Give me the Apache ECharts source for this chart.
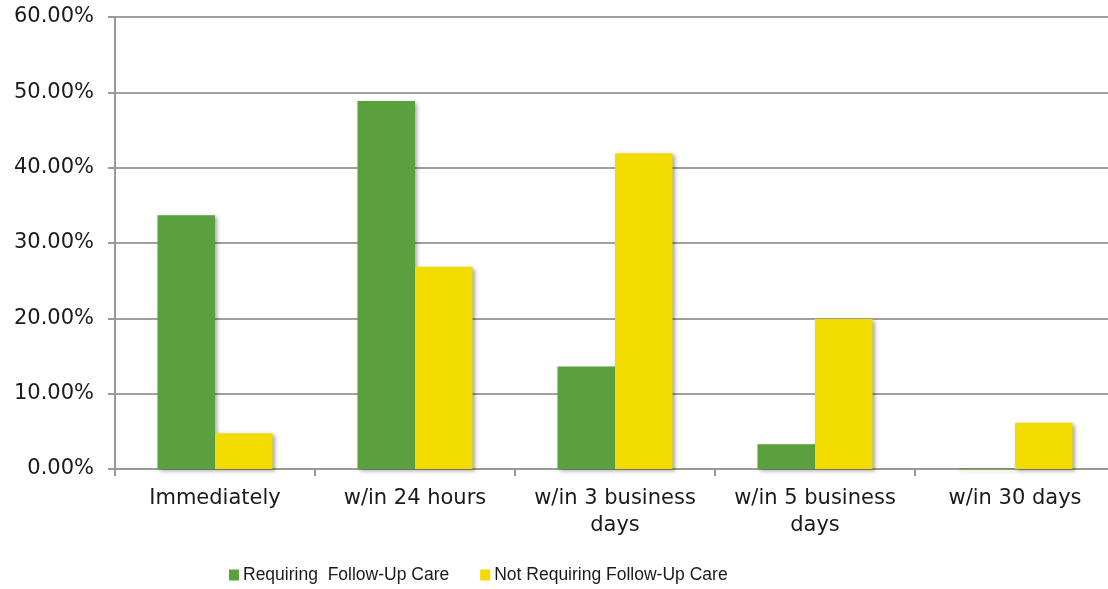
<!DOCTYPE html>
<html>
<head>
<meta charset="utf-8">
<script src="https://cdn.jsdelivr.net/npm/echarts@6/dist/echarts.min.js"></script>
<style>
  html, body { margin: 0; padding: 0; background: #ffffff; overflow: hidden; }
  /* the plot runs a few pixels past the right edge of the window */
  #chart { width: 1115px; height: 589px; }
</style>
</head>
<body>
<div id="chart"></div>
<script>
// Follow-up timing by group, in percent
const categories = ['Immediately', 'w/in 24 hours', 'w/in 3 business\ndays', 'w/in 5 business\ndays', 'w/in 30 days'];
const requiringCare = [33.7, 48.85, 13.6, 3.3, 0.1];
const notRequiringCare = [4.75, 26.85, 41.9, 19.9, 6.15];
const seriesNames = ['Requiring  Follow-Up Care', 'Not Requiring Follow-Up Care'];
const yTicks = { min: 0, max: 60, interval: 10 };

const chart = echarts.init(document.getElementById('chart'), null, { renderer: 'canvas' });

const barShadow = {
  shadowColor: 'rgba(0,0,0,0.35)',
  shadowBlur: 4,
  shadowOffsetX: 2,
  shadowOffsetY: 2
};

chart.setOption({
  animation: false,
  backgroundColor: '#ffffff',
  grid: { left: 115, right: 0, top: 17, bottom: 120, containLabel: false },
  legend: {
    left: 224,
    top: 561,
    itemWidth: 10,
    itemHeight: 11,
    itemGap: 31,
    icon: 'rect',
    textStyle: { fontFamily: 'Liberation Sans', fontSize: 17.5, color: '#1a1a1a', padding: [0, 0, 0, -1] },
    data: seriesNames
  },
  xAxis: {
    type: 'category',
    data: categories,
    axisLine: { show: true, lineStyle: { color: '#999999', width: 2 } },
    axisTick: { show: true, length: 7, lineStyle: { color: '#999999', width: 2 } },
    axisLabel: {
      interval: 0,
      margin: 16,
      fontFamily: 'DejaVu Sans',
      fontSize: 21,
      lineHeight: 27,
      color: '#1a1a1a'
    }
  },
  yAxis: {
    type: 'value',
    min: yTicks.min,
    max: yTicks.max,
    interval: yTicks.interval,
    axisLine: { show: true, lineStyle: { color: '#999999', width: 2 } },
    axisTick: { show: true, length: 7, lineStyle: { color: '#999999', width: 2 } },
    splitLine: { show: true, lineStyle: { color: '#a0a0a0', width: 2 } },
    axisLabel: {
      margin: 21,
      fontFamily: 'DejaVu Sans',
      fontSize: 21,
      color: '#1a1a1a',
      formatter: v => v.toFixed(2) + '%'
    }
  },
  series: [
    {
      name: seriesNames[0],
      type: 'bar',
      data: requiringCare,
      barGap: '0%',
      barCategoryGap: '42.5%',
      itemStyle: Object.assign({ color: '#5ba03f' }, barShadow)
    },
    {
      name: seriesNames[1],
      type: 'bar',
      data: notRequiringCare,
      barGap: '0%',
      barCategoryGap: '42.5%',
      itemStyle: Object.assign({ color: '#f2dc00' }, barShadow)
    }
  ]
});
</script>
</body>
</html>
